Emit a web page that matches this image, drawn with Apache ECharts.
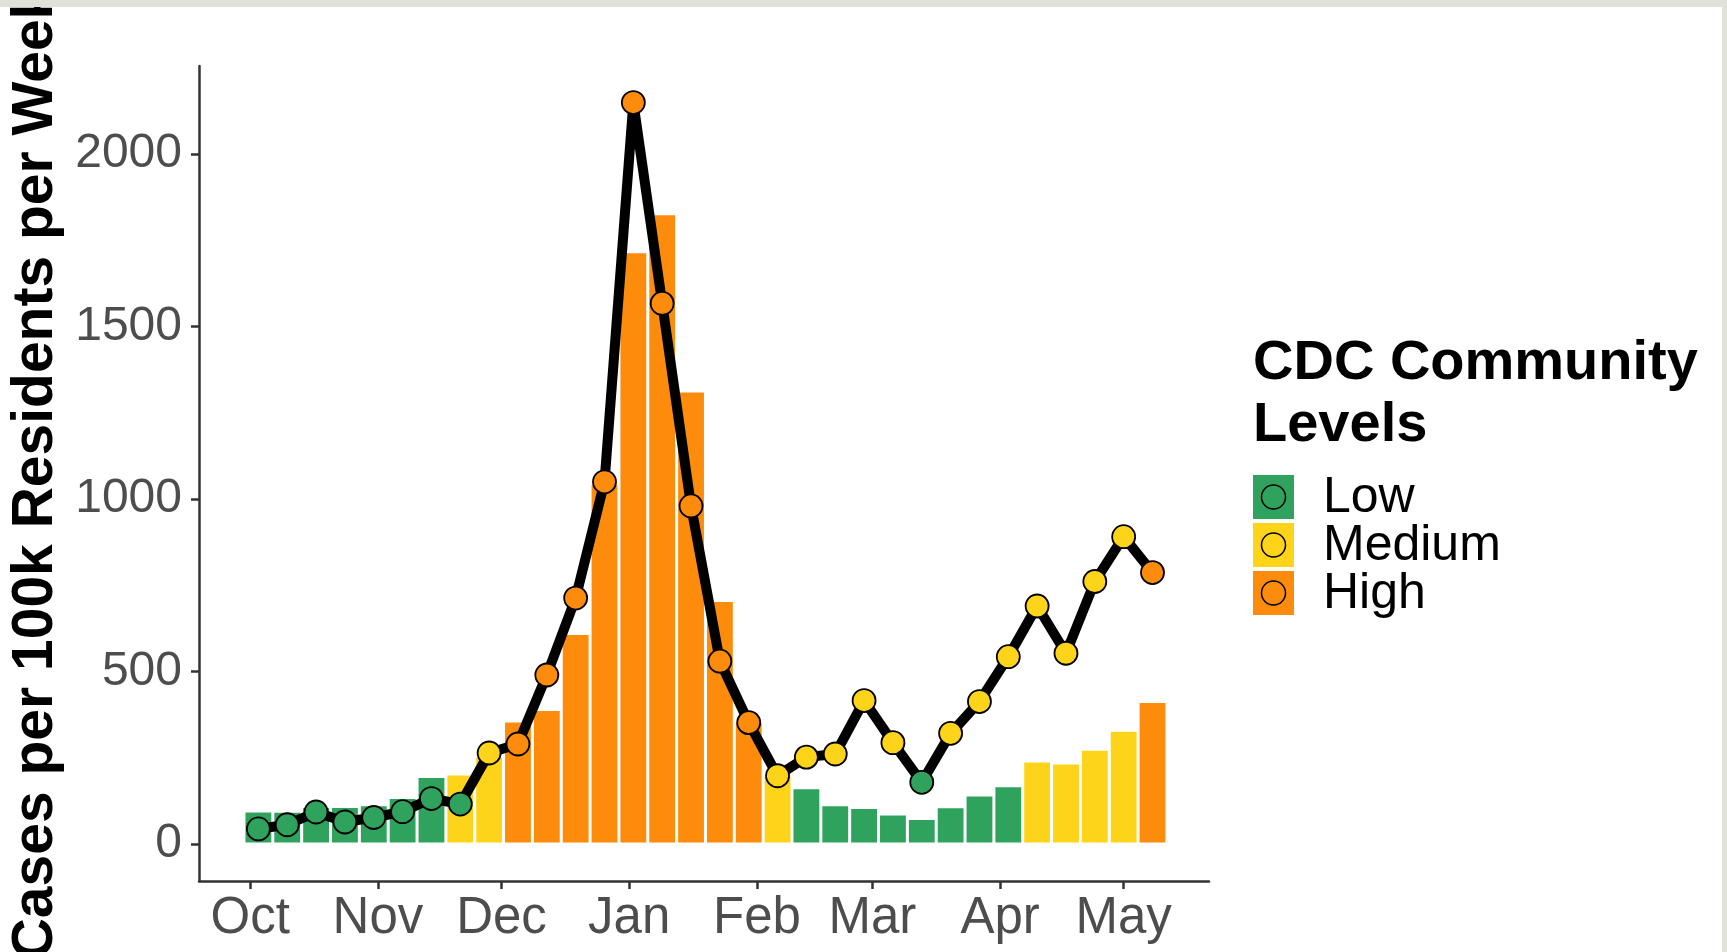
<!DOCTYPE html>
<html>
<head>
<meta charset="utf-8">
<script src="https://cdn.jsdelivr.net/npm/echarts@6/dist/echarts.min.js"></script>
<style>
html,body{margin:0;padding:0;background:#ffffff;}
#chart{width:1727px;height:952px;}
</style>
</head>
<body>
<div id="chart"></div>
<script>
// ---- data ----
const weeks = [
  '2021-10-03','2021-10-10','2021-10-17','2021-10-24','2021-10-31',
  '2021-11-07','2021-11-14','2021-11-21','2021-11-28',
  '2021-12-05','2021-12-12','2021-12-19','2021-12-26',
  '2022-01-02','2022-01-09','2022-01-16','2022-01-23','2022-01-30',
  '2022-02-06','2022-02-13','2022-02-20','2022-02-27',
  '2022-03-06','2022-03-13','2022-03-20','2022-03-27',
  '2022-04-03','2022-04-10','2022-04-17','2022-04-24',
  '2022-05-01','2022-05-08'
];
const caseRate = [44, 56, 93, 64, 77, 94, 132, 116, 264, 290, 490, 713, 1050, 2149, 1567, 980,
  530, 352, 198, 252, 261, 416, 294, 179, 321, 413, 543, 690, 553, 761, 891, 787];
const pointLevel = ['Low','Low','Low','Low','Low','Low','Low','Low','Medium',
  'High','High','High','High','High','High','High','High','High',
  'Medium','Medium','Medium','Medium','Medium','Low',
  'Medium','Medium','Medium','Medium','Medium','Medium','Medium','High'];
const barValues = [96, 95, 109, 109, 114, 135, 196, 203, 255, 357, 390, 610, 1045, 1717, 1827, 1313,
  706, 355, 200, 163, 114, 106, 87, 74, 108, 142, 169, 241, 235, 275, 330, 413];
const barLevel = ['Low','Low','Low','Low','Low','Low','Low','Medium','Medium',
  'High','High','High','High','High','High','High','High','High',
  'Medium','Low','Low','Low','Low','Low','Low','Low','Low',
  'Medium','Medium','Medium','Medium','High'];
const monthTicks = ['2021-10-01','2021-11-01','2021-12-01','2022-01-01','2022-02-01','2022-03-01','2022-04-01','2022-05-01'];
const monthLabels = ['Oct','Nov','Dec','Jan','Feb','Mar','Apr','May'];
const yTicks = [0, 500, 1000, 1500, 2000];
const levelNames = ['Low','Medium','High'];
const levelColors = {Low:'#2fa35d', Medium:'#fed41a', High:'#fd8c0c'};

// ---- helpers ----
const ts = s => Date.parse(s + 'T00:00:00Z');
const monthTs = monthTicks.map(ts);
const FONT = '"Liberation Sans", Arial, Helvetica, sans-serif';

const barData = weeks.map((w, i) => ({
  value: [ts(w), barValues[i]],
  itemStyle: {color: levelColors[barLevel[i]]}
}));
const lineData = weeks.map((w, i) => ({
  value: [ts(w), caseRate[i]],
  itemStyle: {color: levelColors[pointLevel[i]]}
}));

// legend drawn as graphic
const legendEls = [];
legendEls.push({
  type: 'text', x: 1253, y: 333,
  style: {text: 'CDC Community\nLevels', font: 'bold 56px ' + FONT, fill: '#000', lineHeight: 62, verticalAlign: 'top', align: 'left'}
});
levelNames.forEach((name, i) => {
  const y0 = 475 + i * 48;
  legendEls.push({type: 'rect', shape: {x: 1253, y: y0, width: 41, height: 44}, style: {fill: levelColors[name]}});
  legendEls.push({type: 'circle', shape: {cx: 1273.5, cy: y0 + 22, r: 12}, style: {fill: levelColors[name], stroke: '#000', lineWidth: 1.5}});
  legendEls.push({type: 'text', x: 1323, y: y0 + 23,
    style: {text: name, font: '50px ' + FONT, fill: '#000', verticalAlign: 'middle', align: 'left'}});
});

const chart = echarts.init(document.getElementById('chart'), null, {renderer: 'canvas'});
chart.setOption({
  animation: false,
  backgroundColor: '#ffffff',
  grid: {left: 199, right: 518, top: 66, bottom: 71, containLabel: false, outerBoundsMode: 'none'},
  xAxis: {
    type: 'value',
    min: Date.parse('2021-09-18T14:00:00Z'),
    max: Date.parse('2022-05-21T17:00:00Z'),
    axisLine: {show: true, onZero: false, lineStyle: {color: '#333', width: 2.5}},
    axisTick: {show: true, customValues: monthTs, length: 8, lineStyle: {color: '#333', width: 2.5}},
    axisLabel: {
      customValues: monthTs,
      formatter: function (v) {
        const i = monthTs.indexOf(+v);
        return i >= 0 ? monthLabels[i] : '';
      },
      fontSize: 51, fontFamily: FONT, color: '#4d4d4d', margin: 12
    },
    splitLine: {show: false}
  },
  yAxis: {
    type: 'value',
    min: -107, max: 2255,
    name: 'Cases per 100k Residents per Week',
    nameLocation: 'middle', nameGap: 128, nameRotate: 90,
    nameTextStyle: {fontSize: 57, fontWeight: 'bold', fontFamily: FONT, color: '#000'},
    axisLine: {show: true, onZero: false, lineStyle: {color: '#333', width: 2.5}},
    axisTick: {show: true, customValues: yTicks, length: 8, lineStyle: {color: '#333', width: 2.5}},
    axisLabel: {customValues: yTicks, formatter: v => String(v), fontSize: 48, fontFamily: FONT, color: '#4d4d4d', margin: 17},
    splitLine: {show: false}
  },
  series: [
    {
      type: 'bar', data: barData, barWidth: '100%', z: 1,
      itemStyle: {borderColor: '#ffffff', borderWidth: 1.5}
    },
    {
      type: 'line', data: lineData, z: 3,
      symbol: 'circle', symbolSize: 23, showAllSymbol: true,
      lineStyle: {color: '#000', width: 10},
      itemStyle: {borderColor: '#000', borderWidth: 1.8}
    }
  ],
  graphic: [
    {type: 'rect', shape: {x: 0, y: 0, width: 1727, height: 7}, style: {fill: '#e0e2da'}, z: 100},
    {type: 'rect', shape: {x: 1722, y: 0, width: 5, height: 952}, style: {fill: '#e0e2da'}, z: 100}
  ].concat(legendEls)
});
</script>
</body>
</html>
